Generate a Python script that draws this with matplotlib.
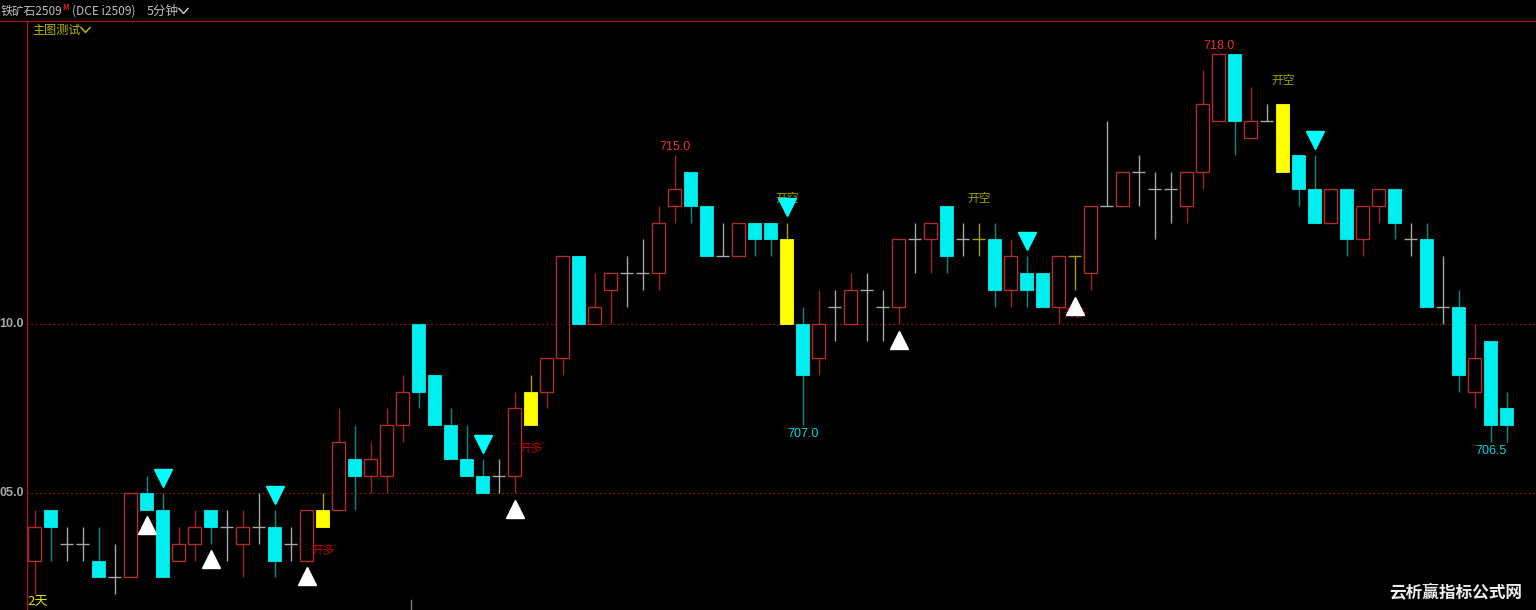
import numpy as np
import matplotlib.pyplot as plt
from matplotlib.lines import Line2D

plt.rcParams['font.family'] = ['Noto Sans CJK SC', 'DejaVu Sans']

# 5-minute bars, iron ore i2509
opens = [703, 704.5, 703.5, 703.5, 703, 702.5, 702.5, 705, 704.5, 703,
         703.5, 704.5, 704, 703.5, 704, 704, 703.5, 703, 704, 704.5,
         706, 705.5, 705.5, 707, 710, 708.5, 707, 706, 705.5, 705.5,
         705.5, 707, 708, 709, 712, 710, 711, 711.5, 711.5, 711.5,
         713.5, 714.5, 713.5, 712, 712, 713, 713, 712.5, 710, 709,
         710.5, 710, 711, 710.5, 710.5, 712.5, 712.5, 713.5, 712.5, 712.5,
         712.5, 711, 711.5, 711.5, 710.5, 712, 711.5, 713.5, 713.5, 714.5,
         714, 714, 713.5, 714.5, 716, 718, 715.5, 716, 716.5, 715,
         714, 713, 714, 712.5, 713.5, 714, 712.5, 712.5, 710.5, 710.5,
         708, 709.5, 707.5]
highs = [704.5, 704.5, 704, 704, 704, 703.5, 705, 705.5, 705, 704,
         704.5, 704.5, 704.5, 704.5, 705, 704.5, 704, 704.5, 705, 707.5,
         707, 706.5, 707.5, 708.5, 710, 708.5, 707.5, 707, 706, 706,
         708, 708.5, 709, 712, 712, 711.5, 711.5, 712, 712.5, 713.5,
         715, 714.5, 713.5, 713, 713, 713, 713, 713, 710.5, 711,
         711, 711.5, 711.5, 711, 712.5, 713, 713, 713.5, 713, 713,
         713, 712.5, 712, 711.5, 712, 712, 713.5, 716, 714.5, 715,
         714.5, 714.5, 714.5, 717.5, 718, 718, 717, 716.5, 716.5, 715,
         715, 714, 714, 713.5, 714, 714, 713, 713, 712, 711,
         710, 709.5, 708]
lows = [702, 703, 703, 703, 702.5, 702, 702.5, 704.5, 702.5, 703,
        703, 703.5, 703, 702.5, 703.5, 702.5, 703, 703, 704, 704.5,
        704.5, 705, 705, 706.5, 707.5, 707, 706, 705.5, 705, 705,
        705, 707, 707.5, 708.5, 710, 710, 710, 710.5, 711, 711,
        713, 713, 712, 712, 712, 712, 712, 710, 707, 708.5,
        709.5, 710, 709.5, 709.5, 710, 711.5, 711.5, 711.5, 712, 712,
        710.5, 710.5, 710.5, 710.5, 710, 711, 711, 713.5, 713.5, 713.5,
        712.5, 713, 713, 714, 716, 715, 715.5, 716, 714.5, 713.5,
        713, 713, 712, 712, 713, 712.5, 712, 710.5, 710, 708,
        707.5, 706.5, 706.5]
closes = [704, 704, 703.5, 703.5, 702.5, 702.5, 705, 704.5, 702.5, 703.5,
          704, 704, 704, 704, 704, 703, 703.5, 704.5, 704.5, 706.5,
          705.5, 706, 707, 708, 708, 707, 706, 705.5, 705, 705.5,
          707.5, 708, 709, 712, 710, 710.5, 711.5, 711.5, 711.5, 713,
          714, 713.5, 712, 712, 713, 712.5, 712.5, 710, 708.5, 710,
          710.5, 711, 711, 710.5, 712.5, 712.5, 713, 712, 712.5, 712.5,
          711, 712, 711, 710.5, 712, 712, 713.5, 713.5, 714.5, 714.5,
          714, 714, 714.5, 716.5, 718, 716, 716, 716, 714.5, 714,
          713, 714, 712.5, 713.5, 714, 713, 712.5, 710.5, 710.5, 708.5,
          709, 707, 707]

signal_bars = [18, 31, 47, 59, 65, 78]
buy_marks = [7, 11, 17, 30, 54, 65]
sell_marks = [8, 15, 28, 47, 62, 80]
long_labels = [18, 31, 65]
short_labels = [47, 59, 78]
high_marks = [40, 74]
low_marks = [48, 91]
grid_prices = [710.0, 705.0]
# the price scale is cut at the left edge, only these parts show
grid_labels = ['10.0', '05.0']

RED = '#b52a2a'
RED_WICK = '#a02222'
CYAN = '#00eeee'
TEAL = '#008c8c'
GRAY = '#a8a8a8'
YELLOW = '#ffff00'
OLIVE = '#a0a000'

W, H = 1536, 610
fig = plt.figure(figsize=(W / 100, H / 100), dpi=100, facecolor='black')
ax = fig.add_axes([26 / W, 0, 1510 / W, 590 / H])
ax.set_facecolor('black')
ax.set_xlim(-0.544, 93.83)
ax.set_ylim(701.538, 718.994)
ax.axis('off')

o = np.array(opens)
c = np.array(closes)
hi = np.array(highs)
lo = np.array(lows)
x = np.arange(len(o))
sig = np.isin(x, signal_bars)
up = (c > o) & ~sig
dn = (c < o) & ~sig
flat = c == o
ybar = sig & ~flat

top = np.maximum(o, c)
bot = np.minimum(o, c)
wick_col = np.where(up, RED_WICK, np.where(dn, TEAL, np.where(sig, OLIVE, GRAY)))

bw = 0.82
ax.vlines(x, top, hi, colors=wick_col, lw=1.0, zorder=1)
ax.vlines(x, lo, bot, colors=wick_col, lw=1.0, zorder=1)

ax.bar(x[up], (c - o)[up], bottom=o[up], width=bw, facecolor='black',
       edgecolor=RED, lw=1.0, zorder=2)
ax.bar(x[dn], (o - c)[dn], bottom=c[dn], width=bw, color=CYAN,
       edgecolor=CYAN, lw=0.6, zorder=2)
ax.bar(x[ybar], (top - bot)[ybar], bottom=bot[ybar], width=bw, color=YELLOW,
       edgecolor=YELLOW, lw=0.6, zorder=2)
flat_col = np.where(sig, OLIVE, GRAY)
ax.hlines(o[flat], x[flat] - bw / 2, x[flat] + bw / 2, colors=flat_col[flat],
          lw=1.0, zorder=2)

for p in grid_prices:
    ax.axhline(p, color='#8a1010', lw=0.8, ls=(0, (2, 2)), zorder=0)

# small time tick at the bottom
ax.plot([23.5, 23.5], [0, 0.017], color='#808080', lw=1.0,
        transform=ax.get_xaxis_transform(), clip_on=False)

# signals
ax.plot(x[buy_marks], lo[buy_marks] - 0.46, ls='none', marker='^', ms=12.5,
        color='white', mec='white', zorder=5)
ax.plot(x[sell_marks], hi[sell_marks] + 0.45, ls='none', marker='v', ms=12.5,
        color='#00ffff', mec='#00ffff', zorder=5)
for i in long_labels:
    ax.text(x[i], lo[i] - 0.72, '开多', color='#c00000', fontsize=8.5,
            ha='center', va='center', zorder=4)
for i in short_labels:
    ax.text(x[i], hi[i] + 0.71, '开空', color=OLIVE, fontsize=8.5,
            ha='center', va='center', zorder=4)

for i in high_marks:
    ax.annotate(f'{hi[i]:.1f}', (x[i], hi[i]), xytext=(0, 5.5),
                textcoords='offset points', ha='center', va='center',
                color='#e83030', fontsize=9, family='Liberation Sans')
for i in low_marks:
    ax.annotate(f'{lo[i]:.1f}', (x[i], lo[i]), xytext=(0, -6.3),
                textcoords='offset points', ha='center', va='center',
                color='#00d8e0', fontsize=9, family='Liberation Sans')

# price axis labels
for p, s in zip(grid_prices, grid_labels):
    yf = ax.transData.transform((0, p))[1] / H
    fig.text(24 / W, yf, s, ha='right', va='center', color='#a8a8a8',
             fontsize=9, fontweight='bold', family='Liberation Sans')

# frame lines
fig.add_artist(Line2D([0, 1], [1 - 20.5 / H, 1 - 20.5 / H], color='#8b1a1a', lw=1.0))
fig.add_artist(Line2D([26.5 / W, 26.5 / W], [0, 1 - 20.5 / H], color='#a01c1c', lw=1.0))


def ftext(px, py, s, **kw):
    fig.text(px / W, 1 - py / H, s, va='center', **kw)


def chevron(px, py, color):
    xs = np.array([px, px + 4.5, px + 9]) / W
    ys = 1 - np.array([py - 2.5, py + 2.5, py - 2.5]) / H
    fig.add_artist(Line2D(xs, ys, color=color, lw=1.1))


ftext(1, 11, '铁矿石2509', color='#c0c0c0', fontsize=8.5)
ftext(62, 7, 'M', color='#e02020', fontsize=5.5, fontweight='bold')
ftext(72, 11, '(DCE i2509)', color='#c0c0c0', fontsize=8.6)
ftext(147, 11, '5分钟', color='#c0c0c0', fontsize=9)
chevron(179, 11, '#c0c0c0')
ftext(32, 30, '主图测试', color='#b8b800', fontsize=8.7)
chevron(81, 30, '#b8b800')
ftext(27, 601.5, '2天', color='#e0e000', fontsize=9.5)
ftext(1389, 592, '云析赢指标公式网', color='#eeeeee', fontsize=12, fontweight='bold')

fig.savefig('out.png', dpi=100, facecolor='black')
